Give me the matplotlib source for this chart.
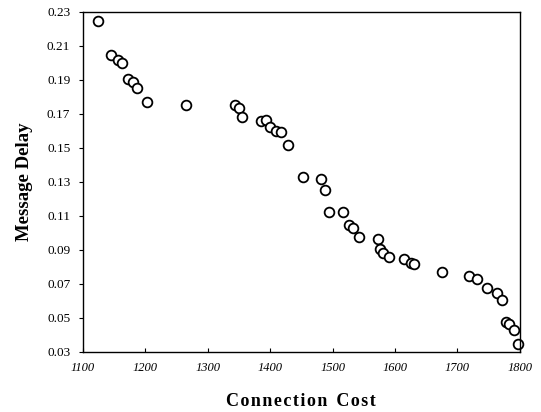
import numpy as np
import matplotlib
matplotlib.use("Agg")
import matplotlib.pyplot as plt

# body
cena = [1125, 1145, 1157, 1163, 1173, 1180, 1187, 1203, 1265,
        1343, 1350, 1355, 1385, 1393, 1400, 1409, 1417, 1429, 1452,
        1481, 1488, 1495, 1516, 1526, 1533, 1543, 1572, 1576, 1581, 1590,
        1614, 1626, 1630, 1675, 1718, 1731, 1747, 1764, 1771,
        1777, 1783, 1790, 1797]
zpozdeni = [0.2247, 0.2045, 0.2018, 0.2002, 0.1908, 0.1888, 0.1855, 0.1770, 0.1755,
            0.1751, 0.1737, 0.1682, 0.1661, 0.1663, 0.1625, 0.1602, 0.1596, 0.1519, 0.1331,
            0.1316, 0.1253, 0.1125, 0.1122, 0.1047, 0.1027, 0.0976, 0.0963, 0.0906, 0.0884, 0.0861,
            0.0845, 0.0823, 0.0814, 0.0769, 0.0749, 0.0729, 0.0678, 0.0645, 0.0604,
            0.0475, 0.0465, 0.0428, 0.0347]

xticky = [1100, 1200, 1300, 1400, 1500, 1600, 1700, 1800]
yticky = [0.03, 0.05, 0.07, 0.09, 0.11, 0.13, 0.15, 0.17, 0.19, 0.21, 0.23]

plt.rcParams['font.family'] = ['Liberation Serif', 'DejaVu Serif']

fig = plt.figure(figsize=(5.41, 4.12), dpi=100)
ax = fig.add_axes([0.153, 0.146, 0.808, 0.825])

ax.plot(cena, zpozdeni, 'o', markersize=7.0, markerfacecolor='white',
        markeredgecolor='black', markeredgewidth=1.3, clip_on=False)

ax.set_xlim(1100, 1800)
ax.set_ylim(0.03, 0.23)
ax.set_xticks(xticky)
ax.set_xticklabels([str(v) for v in xticky], fontstyle='italic', fontsize=9)
ax.set_yticks(yticky)
ax.set_yticklabels(["%.2f" % v for v in yticky], fontsize=9.5)
ax.tick_params(axis='y', direction='out', length=3, width=0.8, pad=6)
ax.tick_params(axis='x', direction='in', length=3, width=0.8, pad=7)

for s in ax.spines.values():
    s.set_linewidth(1.0)

ax.set_xlabel("C o n n e c t i o n   C o s t".replace("   ", "\u2002").replace(" ", "\u200a"),
              fontsize=13, fontweight='bold', labelpad=14)
ax.set_ylabel("Message Delay", fontsize=13.5, fontweight='bold', labelpad=10)

fig.savefig("out.png", dpi=100)
